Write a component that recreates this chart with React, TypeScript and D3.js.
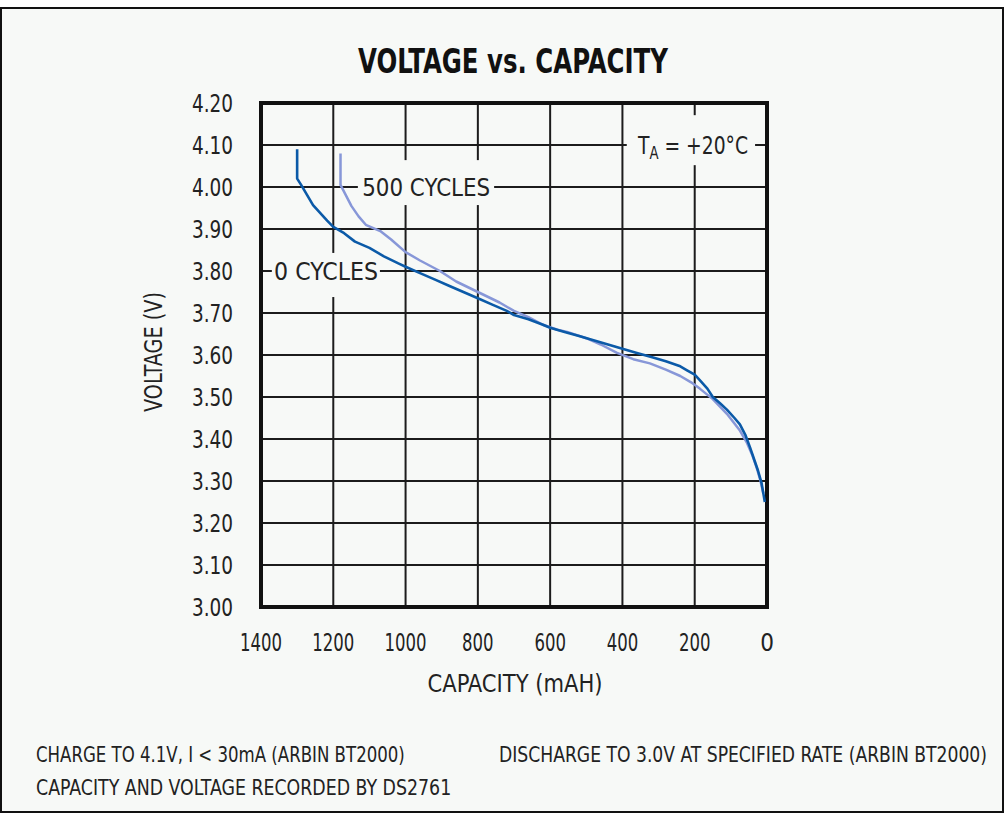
import * as d3 from "d3";

//  DATA
//-------------------------------------------------------//

const yTicks = [3.0, 3.1, 3.2, 3.3, 3.4, 3.5, 3.6, 3.7, 3.8, 3.9, 4.0, 4.1, 4.2];
const xTicks = [1400, 1200, 1000, 800, 600, 400, 200, 0];

// 0 cycles (dark blue)
const zeroCap = [1300, 1300, 1289, 1256, 1217, 1200, 1170, 1140, 1100, 1060, 1020, 1000, 960, 920, 880, 840, 800, 760, 720, 700, 660, 620, 600, 560, 520, 480, 440, 400, 360, 320, 280, 240, 220, 200, 186, 165, 150, 130, 111, 90, 75, 60, 47, 35, 25, 15, 10, 6];
const zeroV = [4.09, 4.02, 4.005, 3.957, 3.92, 3.905, 3.89, 3.87, 3.855, 3.835, 3.818, 3.81, 3.795, 3.78, 3.765, 3.75, 3.735, 3.72, 3.705, 3.695, 3.685, 3.672, 3.665, 3.655, 3.645, 3.635, 3.625, 3.615, 3.605, 3.595, 3.585, 3.573, 3.563, 3.553, 3.54, 3.52, 3.5, 3.485, 3.47, 3.45, 3.435, 3.41, 3.38, 3.35, 3.325, 3.295, 3.27, 3.25];

// 500 cycles (light blue)
const fiveCap = [1180, 1180, 1165, 1150, 1130, 1110, 1070, 1040, 1000, 960, 905, 860, 800, 740, 700, 660, 620, 580, 553, 500, 460, 415, 370, 324, 280, 240, 210, 186, 150, 111, 75, 55, 40, 28, 18, 10];
const fiveV = [4.08, 4.005, 3.98, 3.955, 3.93, 3.91, 3.895, 3.875, 3.845, 3.825, 3.8, 3.775, 3.75, 3.725, 3.705, 3.69, 3.672, 3.66, 3.655, 3.64, 3.625, 3.605, 3.59, 3.58, 3.565, 3.55, 3.535, 3.52, 3.495, 3.46, 3.42, 3.39, 3.36, 3.33, 3.3, 3.27];

const footLeft = ["CHARGE TO 4.1V, I < 30mA (ARBIN BT2000)", "CAPACITY AND VOLTAGE RECORDED BY DS2761"];
const footRight = "DISCHARGE TO 3.0V AT SPECIFIED RATE (ARBIN BT2000)";

//  MAIN FUNCTION
//-------------------------------------------------------//

const BG = "#f7f9f7";
const FONT = "'Liberation Sans Narrow', 'DejaVu Sans Condensed', 'Liberation Sans', sans-serif";

// narrow the tick text to the width of the original condensed face
const tickWidth = (s: string) => (s.length === 1 ? undefined : s.replace(".", "").length * 10.5 + (s.includes(".") ? 4 : 0));

export default function App() {
  const width = 1005;
  const height = 814;
  const left = 261, right = 767, top = 103, bottom = 607;

  const x = d3.scaleLinear([1400, 0], [left, right]);
  const y = d3.scaleLinear([3.0, 4.2], [bottom, top]);

  const line = d3.line<[number, number]>((d) => x(d[0]), (d) => y(d[1]));
  const zero = zeroCap.map((c, i) => [c, zeroV[i]] as [number, number]);
  const five = fiveCap.map((c, i) => [c, fiveV[i]] as [number, number]);

  // annotation boxes that cut the grid (data units)
  const boxes = [
    { x0: 1132, x1: 755, y0: 4.064, y1: 3.957 },
    { x0: 1370, x1: 1071, y0: 3.843, y1: 3.738 },
    { x0: 388, x1: 33, y0: 4.171, y1: 4.052 },
  ];

  return (
    <svg width={width} height={height} style={{ position: "absolute", left: 0, top: 0 }} fontFamily={FONT}>
      <rect x={0} y={0} width={width} height={height} fill="#fff" />
      <rect x={1} y={8} width={1002} height={804} fill={BG} stroke="#111" strokeWidth={2} />

      <text x={513} y={73} textAnchor="middle" fontSize={34} fontWeight="bold" fill="#111" textLength={310} lengthAdjust="spacingAndGlyphs">
        VOLTAGE vs. CAPACITY
      </text>

      {/* grid */}
      <g stroke="#1c1c1c" strokeWidth={2}>
        {yTicks.map((t) => (
          <line key={"h" + t} x1={left} x2={right} y1={y(t)} y2={y(t)} />
        ))}
        {xTicks.map((t) => (
          <line key={"v" + t} x1={x(t)} x2={x(t)} y1={top} y2={bottom} />
        ))}
      </g>

      {boxes.map((b, i) => (
        <rect key={i} x={x(b.x0)} y={y(b.y0)} width={x(b.x1) - x(b.x0)} height={y(b.y1) - y(b.y0)} fill={BG} />
      ))}

      <rect x={left} y={top} width={right - left} height={bottom - top} fill="none" stroke="#111" strokeWidth={4} />

      {/* curves */}
      <path d={line(five)!} fill="none" stroke="#8797d8" strokeWidth={2.5} strokeLinejoin="round" />
      <path d={line(zero)!} fill="none" stroke="#0b5aa8" strokeWidth={2.6} strokeLinejoin="round" />

      {/* labels */}
      <g fill="#222" fontSize={24}>
        <text x={x(943)} y={y(4.0) + 9} textAnchor="middle" textLength={128} lengthAdjust="spacingAndGlyphs">500 CYCLES</text>
        <text x={x(1220)} y={y(3.8) + 9} textAnchor="middle" textLength={104} lengthAdjust="spacingAndGlyphs">0 CYCLES</text>
        <text x={x(357)} y={y(4.1) + 9} textLength={110} lengthAdjust="spacingAndGlyphs">
          T<tspan fontSize={17} dy={5}>A</tspan><tspan dy={-5}> = +20°C</tspan>
        </text>
      </g>

      {/* tick labels */}
      <g fill="#222" fontSize={24}>
        {yTicks.map((t) => (
          <text key={t} x={233} y={y(t) + 9} textAnchor="end" textLength={41} lengthAdjust="spacingAndGlyphs">{t.toFixed(2)}</text>
        ))}
        {xTicks.map((t) => (
          <text key={t} x={x(t)} y={651} textAnchor="middle" textLength={tickWidth(String(t))} lengthAdjust="spacingAndGlyphs">{t}</text>
        ))}
      </g>

      <text x={515} y={692} textAnchor="middle" fontSize={24} fill="#222" textLength={175} lengthAdjust="spacingAndGlyphs">CAPACITY (mAH)</text>
      <text transform={`translate(162,${352}) rotate(-90)`} textAnchor="middle" fontSize={24} fill="#222" textLength={120} lengthAdjust="spacingAndGlyphs">VOLTAGE (V)</text>

      <g fill="#222" fontSize={22}>
        <text transform="translate(36,762) scale(0.8,1)" textLength={461} lengthAdjust="spacingAndGlyphs">{footLeft[0]}</text>
        <text transform="translate(36,795) scale(0.8,1)" textLength={519} lengthAdjust="spacingAndGlyphs">{footLeft[1]}</text>
        <text transform="translate(499,762) scale(0.8,1)" textLength={610} lengthAdjust="spacingAndGlyphs">{footRight}</text>
      </g>
    </svg>
  );
}
